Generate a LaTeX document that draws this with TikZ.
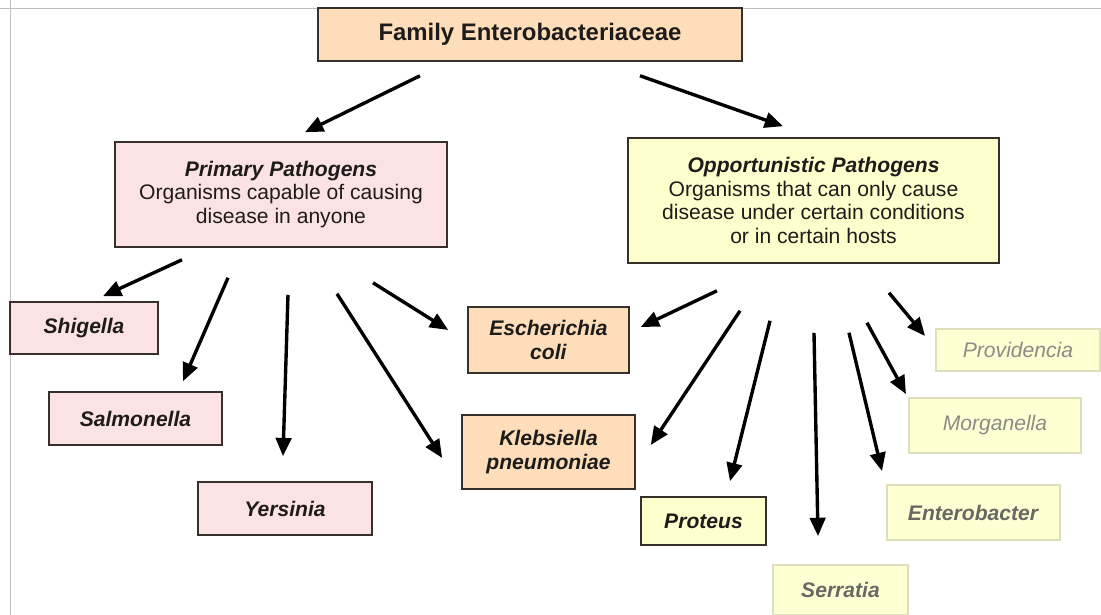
\documentclass[tikz,border=0pt]{standalone}
\usepackage{fontspec}
\setmainfont{Liberation Sans}
\usepackage{tikz}
\usetikzlibrary{arrows.meta, calc}
\definecolor{peach}{RGB}{253,221,186}
\definecolor{pinkfill}{RGB}{252,227,227}
\definecolor{creamfill}{RGB}{255,255,206}
\definecolor{palefill}{RGB}{255,255,212}
\definecolor{boxline}{RGB}{55,48,42}
\definecolor{paleline}{RGB}{222,222,188}
\definecolor{darktext}{RGB}{30,28,26}
\definecolor{greytext}{RGB}{105,105,100}
\definecolor{lighttext}{RGB}{140,140,135}

\begin{document}
\begin{tikzpicture}[x=0.025cm, y=-0.025cm]
\tikzstyle{box}=[draw=boxline, line width=1.1pt, inner sep=2pt, align=center, text=darktext, font=\fontsize{15}{17}\selectfont]
\tikzstyle{peachbox}=[box, fill=peach]
\tikzstyle{pinkbox}=[box, fill=pinkfill]
\tikzstyle{creambox}=[box, fill=creamfill]
\tikzstyle{palebox}=[box, draw=paleline, fill=palefill, line width=1.3pt]
\tikzstyle{link}=[line width=2.4pt, -{Triangle[length=13pt, width=11pt]}]
\useasboundingbox (0,0) rectangle (1101,615);

% slide frame
\draw[black!25, line width=0.6pt] (0,8) -- (1101,8);
\draw[black!25, line width=0.6pt] (10,0) -- (10,615);

\node[peachbox, minimum width=10.6cm, minimum height=1.325cm, font=\fontsize{17}{19}\selectfont\bfseries] (family) at (530,34.5) {Family Enterobacteriaceae};

\node[pinkbox, minimum width=8.3cm, minimum height=2.625cm] (primary) at (281,194.5)
  {\textbf{\textit{Primary Pathogens}}\\Organisms capable of causing\\disease in anyone};
\node[creambox, minimum width=9.275cm, minimum height=3.125cm] (opport) at (813.5,200.5)
  {\textbf{\textit{Opportunistic Pathogens}}\\Organisms that can only cause\\disease under certain conditions\\or in certain hosts};

\node[pinkbox, minimum width=3.7cm, minimum height=1.3cm] (shigella) at (84,328) {\textbf{\textit{Shigella}}};
\node[pinkbox, minimum width=4.325cm, minimum height=1.325cm] (salmonella) at (135.5,418.5) {\textbf{\textit{Salmonella}}};
\node[pinkbox, minimum width=4.35cm, minimum height=1.325cm] (yersinia) at (285,508.5) {\textbf{\textit{Yersinia}}};

\node[peachbox, minimum width=4.025cm, minimum height=1.65cm] (ecoli) at (548.5,340) {\textbf{\textit{Escherichia}}\\\textbf{\textit{coli}}};
\node[peachbox, minimum width=4.325cm, minimum height=1.85cm] (kleb) at (548.5,452) {\textbf{\textit{Klebsiella}}\\\textbf{\textit{pneumoniae}}};

\node[creambox, minimum width=3.125cm, minimum height=1.2cm] (proteus) at (703.5,521) {\textbf{\textit{Proteus}}};
\node[palebox, minimum width=3.375cm, minimum height=1.25cm, text=greytext] (serratia) at (840.5,590) {\textbf{\textit{Serratia}}};
\node[palebox, minimum width=4.325cm, minimum height=1.375cm, text=greytext] (entero) at (973.5,512.5) {\textbf{\textit{Enterobacter}}};
\node[palebox, minimum width=4.3cm, minimum height=1.375cm, text=lighttext] (morgan) at (995,425.5) {\textit{Morganella}};
\node[palebox, minimum width=4.1cm, minimum height=1.05cm, text=lighttext] (provid) at (1018,350) {\textit{Providencia}};

% arrows
\draw[link] ($(family.south)+(-110,14)$) -- ($(primary.north)+(24,-9)$);
\draw[link] ($(family.south)+(110,14)$) -- ($(opport.north)+(-30.5,-11)$);

\draw[link] ($(primary.south)+(-99,12)$) -- ($(shigella.north)+(19,-5)$);
\draw[link] ($(primary.south)+(-53,30)$) -- ($(salmonella.north)+(47.5,-10)$);
\draw[link] ($(primary.south)+(7,47)$) -- ($(yersinia.north)+(-2,-25)$);
\draw[link] ($(primary.south)+(56,46)$) -- ($(kleb.west)+(-19,6)$);
\draw[link] ($(primary.south)+(92,35)$) -- ($(ecoli.west)+(-19,-10)$);

\draw[link] ($(opport.south)+(-96.5,27)$) -- ($(ecoli.east)+(11,-13)$);
\draw[link] ($(opport.south)+(-73.5,47)$) -- ($(kleb.east)+(15,-7)$);
\draw[link] ($(opport.south)+(-43.5,57)$) -- ($(proteus.north)+(26.5,-15)$);
\draw[link] ($(opport.south)+(0.5,69)$) -- ($(serratia.north)+(-22.5,-28)$);
\draw[link] ($(opport.south)+(35.5,69)$) -- ($(entero.north)+(-91.5,-13)$);
\draw[link] ($(opport.south)+(53.5,59)$) -- ($(morgan.north)+(-89,-3)$);
\draw[link] ($(opport.south)+(75.5,29)$) -- ($(provid.west)+(-10,-14)$);
\end{tikzpicture}
\end{document}
